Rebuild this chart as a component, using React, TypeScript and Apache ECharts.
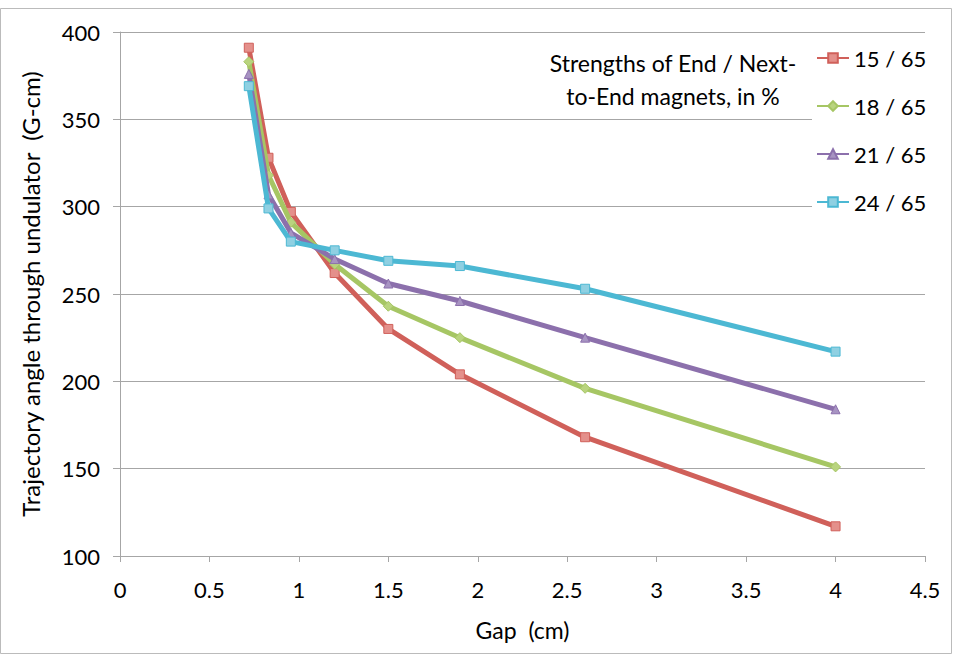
import React, { useEffect, useRef } from "react";
import * as echarts from "echarts";

const gapCm = [0.72, 0.83, 0.955, 1.2, 1.5, 1.9, 2.6, 4.0];
const s15 = [391, 328, 297, 262, 230, 204, 168, 117];
const s18 = [383, 318, 291, 267, 243, 225, 196, 151];
const s21 = [376, 307, 285, 270, 256, 246, 225, 184];
const s24 = [369, 299, 280, 275, 269, 266, 253, 217];
const seriesNames = ["15 / 65", "18 / 65", "21 / 65", "24 / 65"];
const lineColors = ["#D0605A", "#A6C664", "#8C70AC", "#4CB8D3"];
const markerColors = ["#E4908B", "#B9D47E", "#A793C2", "#8FD0E2"];
const markerShapes = ["rect", "diamond", "triangle", "rect"];

const FONT = "Lato";

export default function App() {
  const ref = useRef<HTMLDivElement>(null);
  useEffect(() => {
    if (!ref.current) return;
    const chart = echarts.init(ref.current, undefined, { renderer: "svg" });
    const all = [s15, s18, s21, s24];
    const series = all.map((vals, i) => ({
      name: seriesNames[i],
      type: "line",
      data: vals.map((v, j) => [gapCm[j], v]),
      lineStyle: { color: lineColors[i], width: 5 },
      itemStyle: { color: markerColors[i], borderColor: lineColors[i], borderWidth: 1 },
      symbol: markerShapes[i],
      symbolSize: i === 1 ? 10 : 9,
      showAllSymbol: true,
      z: 3 + i,
    }));
    chart.setOption({
      animation: false,
      backgroundColor: "#ffffff",
      grid: { left: 120, right: 28, top: 32, bottom: 98, containLabel: false },
      xAxis: {
        type: "value",
        min: 0,
        max: 4.5,
        interval: 0.5,
        name: "Gap  (cm)",
        nameLocation: "middle",
        nameGap: 62,
        nameTextStyle: { fontFamily: FONT, fontSize: 23, color: "#000" },
        axisLine: { show: true, lineStyle: { color: "#A6A6A6", width: 1 } },
        axisTick: { show: true, inside: false, length: 6, lineStyle: { color: "#A6A6A6" } },
        axisLabel: { fontFamily: FONT, fontSize: 22, color: "#000", margin: 22 },
        splitLine: { show: false },
      },
      yAxis: {
        type: "value",
        min: 100,
        max: 400,
        interval: 50,
        name: "Trajectory angle through undulator  (G-cm)",
        nameLocation: "middle",
        nameGap: 78,
        nameTextStyle: { fontFamily: FONT, fontSize: 24, color: "#000" },
        axisLine: { show: true, lineStyle: { color: "#A6A6A6", width: 1 } },
        axisTick: { show: true, inside: false, length: 7, lineStyle: { color: "#A6A6A6" } },
        axisLabel: { fontFamily: FONT, fontSize: 22, color: "#000", margin: 20 },
        splitLine: { show: true, lineStyle: { color: "#A6A6A6", width: 1 } },
      },
      legend: {
        orient: "vertical",
        left: 812,
        top: 35,
        padding: [12, 4, 12, 4],
        backgroundColor: "#ffffff",
        itemWidth: 32,
        itemHeight: 12,
        itemGap: 26,
        textStyle: { fontFamily: FONT, fontSize: 22, color: "#000", lineHeight: 22 },
        data: seriesNames,
      },
      graphic: [
        {
          type: "rect",
          shape: { x: 0.5, y: 8.5, width: 951, height: 645 },
          style: { fill: "none", stroke: "#BBBBBB", lineWidth: 1 },
          silent: true,
          z: 100,
        },
        {
          type: "text",
          x: 673,
          y: 79,
          style: {
            text: "Strengths of End / Next-\nto-End magnets, in %",
            fontFamily: FONT,
            fontSize: 23,
            lineHeight: 33,
            fill: "#000",
            align: "center",
            verticalAlign: "middle",
          },
          z: 100,
        },
      ],
      series,
    });
    return () => chart.dispose();
  }, []);
  return (
    <div
      ref={ref}
      style={{ position: "fixed", left: 0, top: 0, width: 953, height: 654 }}
    />
  );
}
